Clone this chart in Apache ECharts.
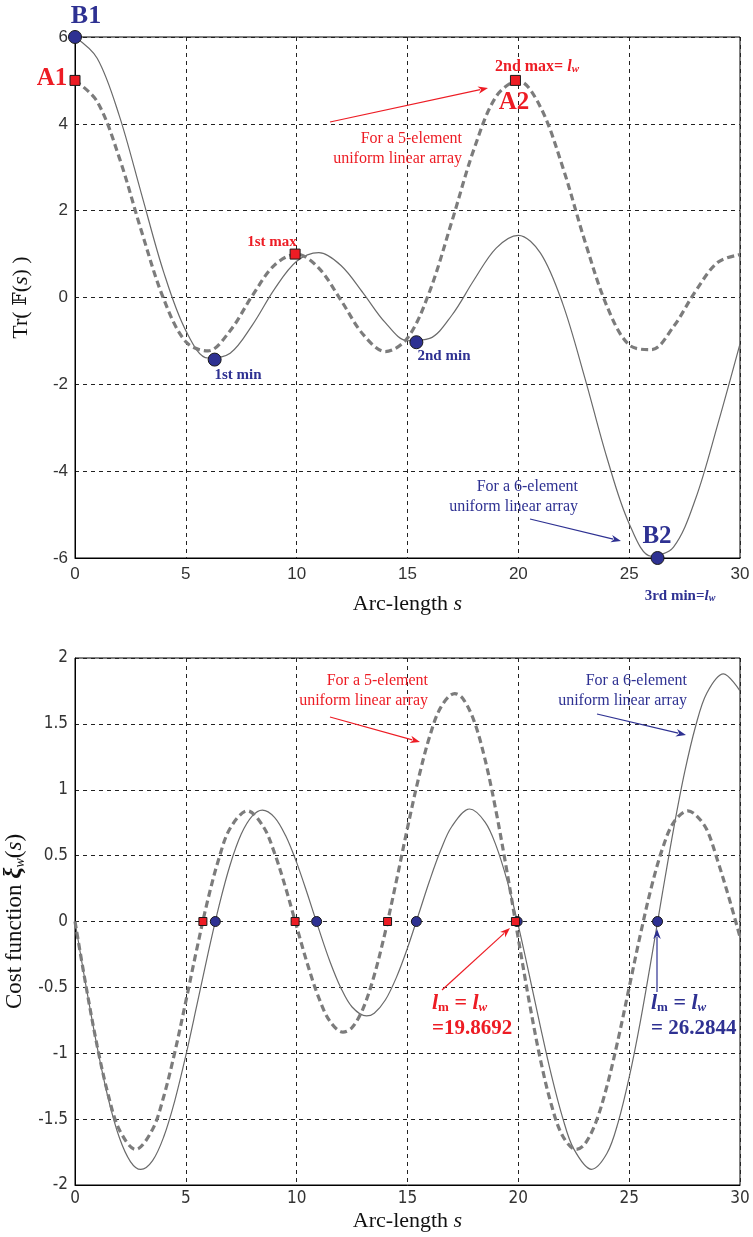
<!DOCTYPE html>
<html>
<head>
<meta charset="utf-8">
<script src="https://cdn.jsdelivr.net/npm/echarts@6.0.0/dist/echarts.min.js"></script>
<style>
html,body{margin:0;padding:0;background:#fff;}
#c{width:753px;height:1237px;}
</style>
</head>
<body>
<div id="c"></div>
<script>
// ---------- data ----------
const xTicks = [0, 5, 10, 15, 20, 25, 30];
const yTicksTop = [-6, -4, -2, 0, 2, 4, 6];
const yTicksBottom = [-2, -1.5, -1, -0.5, 0, 0.5, 1, 1.5, 2];

// Arc-length samples, top panel
const arcS = [0,1,2,3,4,5,6,7,8,9,10,11,12,13,14,15,16,17,18,19,20,21,22,23,24,25,26,27,28,29,30];

// Top: Tr(F(s)), 5-element ULA (dashed)
const tr5 = [5.000,4.514,3.216,1.524,-0.034,-1.020,-1.230,-0.764,0.042,0.747,0.999,0.675,-0.065,-0.852,-1.246,-0.934,0.142,1.749,3.418,4.630,4.991,4.383,3.006,1.302,-0.204,-1.093,-1.202,-0.670,0.150,0.811,0.988];
// Top: Tr(F(s)), 6-element ULA (solid)
const tr6 = [6.000,5.512,4.183,2.382,0.585,-0.763,-1.393,-1.284,-0.635,0.193,0.833,1.033,0.738,0.102,-0.580,-0.996,-0.942,-0.409,0.403,1.139,1.433,1.023,-0.141,-1.850,-3.697,-5.209,-5.960,-5.747,-4.630,-2.917,-1.069];

// Bottom: cost function, 5-element ULA (dashed)
const sCost5 = [0,0.5,1,1.5,2,2.74,3.5,4,4.5,5,5.5,6,6.5,7,7.78,8.5,9,9.5,10,10.5,11,11.5,12.09,12.5,13,13.5,14,14.5,15,15.5,16,16.5,17.13,17.5,18,18.5,19,19.5,20,20.5,21,21.5,22,22.61,23,23.5,24,24.5,25,25.5,26,26.5,27,27.65,28,28.5,29,29.5,30];
const cost5  = [0,-0.493,-0.944,-1.317,-1.580,-1.730,-1.577,-1.330,-0.994,-0.606,-0.205,0.170,0.483,0.708,0.840,0.719,0.520,0.257,-0.039,-0.330,-0.580,-0.757,-0.840,-0.805,-0.659,-0.408,-0.076,0.309,0.711,1.088,1.404,1.625,1.730,1.692,1.523,1.229,0.832,0.366,-0.131,-0.617,-1.051,-1.397,-1.628,-1.730,-1.689,-1.523,-1.248,-0.896,-0.501,-0.103,0.259,0.552,0.750,0.840,0.809,0.698,0.457,0.181,-0.117];
// Bottom: cost function, 6-element ULA (solid)
const sCost6 = [0,0.5,1,1.5,2,2.5,2.97,3.5,4,4.5,5,5.5,6,6.5,7,7.5,8,8.45,9,9.5,10,10.5,11,11.5,12,12.5,13.15,13.5,14,14.5,15,15.5,16,16.5,17,17.8,18.5,19,19.5,20,20.5,21,21.5,22,22.5,23.3,24,24.5,25,25.5,26,26.5,27,27.5,28,28.5,29.25,30];
const cost6  = [0,-0.494,-0.953,-1.344,-1.640,-1.822,-1.882,-1.815,-1.636,-1.361,-1.017,-0.633,-0.244,0.121,0.431,0.664,0.802,0.846,0.791,0.652,0.447,0.201,-0.058,-0.303,-0.506,-0.649,-0.717,-0.696,-0.596,-0.424,-0.201,0.054,0.311,0.542,0.721,0.854,0.755,0.574,0.306,-0.031,-0.410,-0.801,-1.172,-1.490,-1.726,-1.881,-1.759,-1.526,-1.184,-0.763,-0.283,0.215,0.698,1.131,1.484,1.733,1.880,1.751];

// Marked points
const topRedS = [0, 9.93, 19.87];        const topRedV = [5, 1, 5];
const topBlueS = [0, 6.3, 15.4, 26.28];  const topBlueV = [6, -1.43, -1.03, -6];
const botRedS = [5.77, 9.93, 14.1, 19.87];          const botRedV = [0, 0, 0, 0];
const botBlueS = [6.33, 10.9, 15.4, 19.95, 26.28];  const botBlueV = [0, 0, 0, 0, 0];

// ---------- styling ----------
const RED = '#ed1c24', BLUE = '#2e3192';
const SERIF = '"Liberation Serif","Times New Roman",serif';
const SANS = '"Liberation Sans",Arial,sans-serif';
const NARROW = '"Liberation Sans Narrow","DejaVu Sans Condensed","Liberation Sans",sans-serif';

const zip = (a, b) => a.map((v, i) => [v, b[i]]);

function xAxisCfg(gridIndex, gap, margin, fam) {
  return {
    type: 'value', gridIndex, min: xTicks[0], max: xTicks[xTicks.length - 1],
    interval: xTicks[1] - xTicks[0],
    name: '{n|Arc-length }{i|s}', nameLocation: 'middle', nameGap: gap,
    nameTextStyle: { rich: {
      n: { fontFamily: SERIF, fontSize: 22, color: '#111' },
      i: { fontFamily: SERIF, fontSize: 22, fontStyle: 'italic', color: '#111' } } },
    axisLine: { show: true, onZero: false, lineStyle: { color: '#000', width: 1 } },
    axisTick: { show: false },
    axisLabel: { color: '#333', fontSize: 17, fontFamily: fam, margin },
    splitLine: { show: true, lineStyle: { color: '#222', width: 1, type: [4, 4] } }
  };
}
function yAxisCfg(gridIndex, ticks, name, rich, gap, fam) {
  return {
    type: 'value', gridIndex, min: ticks[0], max: ticks[ticks.length - 1],
    interval: ticks[1] - ticks[0],
    name, nameLocation: 'middle', nameGap: gap, nameRotate: 90,
    nameTextStyle: { rich },
    axisLine: { show: true, onZero: false, lineStyle: { color: '#000', width: 1 } },
    axisTick: { show: false },
    axisLabel: { color: '#333', fontSize: 17, fontFamily: fam, margin: 7 },
    splitLine: { show: true, lineStyle: { color: '#222', width: 1, type: [4, 4] } }
  };
}

const solidStyle = { color: '#6a6a6a', width: 1.2 };
const dashStyle = { color: '#7c7c7c', width: 3.2, type: [7, 4] };

function lineSeries(xi, yi, data, ls) {
  return { type: 'line', xAxisIndex: xi, yAxisIndex: yi, data, showSymbol: false,
           smooth: 0.34, lineStyle: ls, z: 3, silent: true };
}
function markSeries(xi, yi, data, shape, size, color) {
  return { type: 'scatter', xAxisIndex: xi, yAxisIndex: yi, data, symbol: shape,
           symbolSize: size, clip: false, z: 10, silent: true,
           itemStyle: { color, borderColor: '#1a1a1a', borderWidth: 1, opacity: 1 } };
}

// ---------- annotations ----------
function txt(x, y, text, font, fill, align) {
  const st = { text, font, fill, align: align || 'center', verticalAlign: 'middle' };
  if (text.indexOf('\n') >= 0) st.lineHeight = 20;
  return { type: 'text', x, y, z: 100, silent: true, style: st };
}
function richTxt(x, y, text, rich, align) {
  return { type: 'text', x, y, z: 100, silent: true,
    style: { text, rich, align: align || 'center', verticalAlign: 'middle' } };
}
function arrow(x1, y1, x2, y2, color) {
  const a = Math.atan2(y2 - y1, x2 - x1), L = 10, W = 3.8;
  const bx = x2 - L * Math.cos(a), by = y2 - L * Math.sin(a);
  const px = -Math.sin(a) * W, py = Math.cos(a) * W;
  return [
    { type: 'line', z: 100, silent: true, shape: { x1, y1, x2: bx + 2 * Math.cos(a), y2: by + 2 * Math.sin(a) },
      style: { stroke: color, lineWidth: 1.2 } },
    { type: 'polygon', z: 100, silent: true,
      shape: { points: [[x2, y2], [bx + px, by + py], [bx + 3 * Math.cos(a), by + 3 * Math.sin(a)], [bx - px, by - py]] },
      style: { fill: color } }
  ];
}
function lwRich(color, size, sub) {
  return {
    b: { fontFamily: SERIF, fontWeight: 'bold', fontSize: size, fill: color },
    l: { fontFamily: SERIF, fontWeight: 'bold', fontStyle: 'italic', fontSize: size, fill: color },
    m: { fontFamily: SERIF, fontWeight: 'bold', fontSize: sub, fill: color, verticalAlign: 'bottom' },
    w: { fontFamily: SERIF, fontWeight: 'bold', fontStyle: 'italic', fontSize: sub, fill: color, verticalAlign: 'bottom' }
  };
}

const graphics = [
  // top chart
  txt(86, 16, 'B1', 'bold 26px ' + SERIF, BLUE),
  txt(52, 79, 'A1', 'bold 25px ' + SERIF, RED),
  richTxt(537, 67, '{b|2nd max= }{l|l}{w|w}', lwRich(RED, 16, 11)),
  txt(514, 103, 'A2', 'bold 25px ' + SERIF, RED),
  txt(462, 149, 'For a 5-element\nuniform linear array', '16px ' + SERIF, RED, 'right'),
  ...arrow(330, 122, 488, 88, RED),
  txt(272, 242, '1st max', 'bold 15px ' + SERIF, RED),
  txt(238, 375, '1st min', 'bold 15px ' + SERIF, BLUE),
  txt(444, 356, '2nd min', 'bold 15px ' + SERIF, BLUE),
  txt(578, 497, 'For a 6-element\nuniform linear array', '16px ' + SERIF, BLUE, 'right'),
  ...arrow(530, 519, 621, 541, BLUE),
  txt(657, 537, 'B2', 'bold 25px ' + SERIF, BLUE),
  richTxt(680, 596, '{b|3rd min=}{l|l}{w|w}', lwRich(BLUE, 15, 10)),
  // bottom chart
  txt(428, 691, 'For a 5-element\nuniform linear array', '16px ' + SERIF, RED, 'right'),
  ...arrow(330, 717, 420, 742, RED),
  txt(687, 691, 'For a 6-element\nuniform linear array', '16px ' + SERIF, BLUE, 'right'),
  ...arrow(597, 714, 686, 735, BLUE),
  richTxt(432, 1003, '{l|l}{m|m}{b| = }{l|l}{w|w}', lwRich(RED, 22, 13), 'left'),
  txt(432, 1029, '=19.8692', 'bold 21px ' + SERIF, RED, 'left'),
  ...arrow(442, 990, 510, 928, RED),
  richTxt(651, 1003, '{l|l}{m|m}{b| = }{l|l}{w|w}', lwRich(BLUE, 22, 13), 'left'),
  txt(651, 1029, '= 26.2844', 'bold 21px ' + SERIF, BLUE, 'left'),
  ...arrow(657, 992, 657, 929, BLUE)
];

const option = {
  backgroundColor: '#fff',
  animation: false,
  grid: [
    { left: 75, right: 13, top: 37, height: 521, show: true, borderColor: '#000', borderWidth: 1,
      backgroundColor: 'transparent', containLabel: false, outerBoundsMode: 'none' },
    { left: 75, right: 13, top: 658, height: 527, show: true, borderColor: '#000', borderWidth: 1,
      backgroundColor: 'transparent', containLabel: false, outerBoundsMode: 'none' }
  ],
  xAxis: [ xAxisCfg(0, 35, 8, SANS), xAxisCfg(1, 25, 5, NARROW) ],
  yAxis: [
    yAxisCfg(0, yTicksTop, '{n|Tr( }{bb|𝔽}{n|(}{i|s}{n|) )}', {
      n: { fontFamily: SERIF, fontSize: 22, color: '#111' },
      bb: { fontFamily: '"DejaVu Serif","DejaVu Sans",serif', fontSize: 19, color: '#111' },
      i: { fontFamily: SERIF, fontSize: 22, fontStyle: 'italic', color: '#111' } }, 43, SANS),
    yAxisCfg(1, yTicksBottom, '{n|Cost function }{x|ξ}{w|w}{n|(}{i|s}{n|)}', {
      n: { fontFamily: SERIF, fontSize: 23, color: '#111' },
      x: { fontFamily: SERIF, fontSize: 25, fontStyle: 'italic', fontWeight: 'bold', color: '#111' },
      w: { fontFamily: SERIF, fontSize: 14, fontStyle: 'italic', color: '#111', verticalAlign: 'bottom' },
      i: { fontFamily: SERIF, fontSize: 23, fontStyle: 'italic', color: '#111' } }, 43, NARROW)
  ],
  series: [
    lineSeries(0, 0, zip(arcS, tr6), solidStyle),
    lineSeries(0, 0, zip(arcS, tr5), dashStyle),
    markSeries(0, 0, zip(topBlueS, topBlueV), 'circle', 13, BLUE),
    markSeries(0, 0, zip(topRedS, topRedV), 'rect', 10, RED),
    lineSeries(1, 1, zip(sCost6, cost6), solidStyle),
    lineSeries(1, 1, zip(sCost5, cost5), dashStyle),
    markSeries(1, 1, zip(botBlueS, botBlueV), 'circle', 10, BLUE),
    markSeries(1, 1, zip(botRedS, botRedV), 'rect', 8, RED)
  ],
  graphic: graphics
};

const chart = echarts.init(document.getElementById('c'), null, { renderer: 'canvas' });
chart.setOption(option);
</script>
</body>
</html>
